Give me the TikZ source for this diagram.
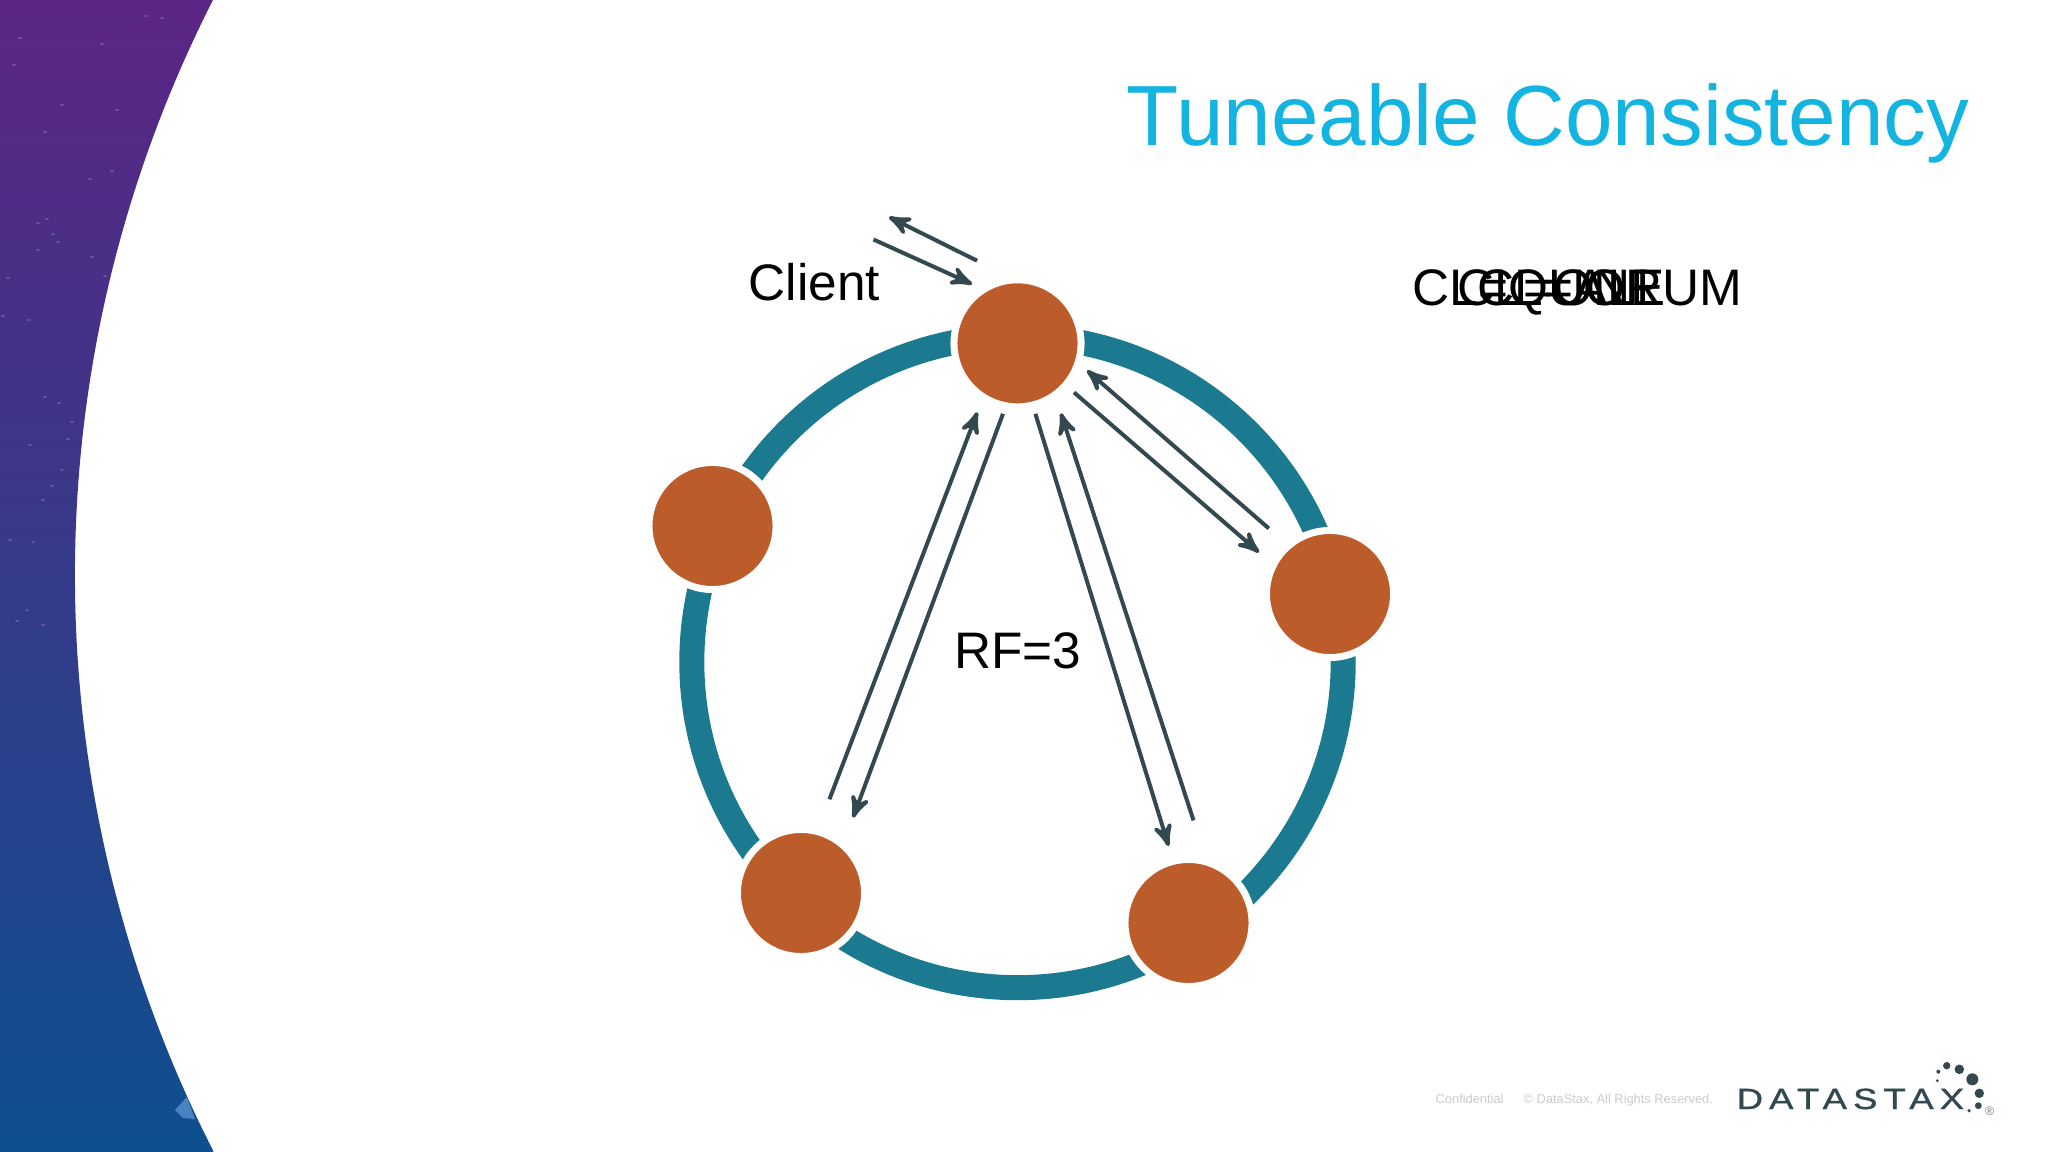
\documentclass[tikz,border=0pt]{standalone}
\usepackage{fontspec}
\setmainfont{Liberation Sans}
\newfontfamily\logofont[LetterSpace=21,FakeStretch=1.25,FakeBold=1.2]{Liberation Sans}
\usepackage{xcolor}
\usetikzlibrary{arrows}
\definecolor{ringblue}{HTML}{1B7A8F}
\definecolor{nodeorange}{HTML}{BC5C2B}
\definecolor{titleblue}{HTML}{14B4E1}
\definecolor{arrowgrey}{HTML}{33494F}
\definecolor{footgrey}{HTML}{CBCBD0}
\definecolor{reggrey}{HTML}{6F7F83}
\definecolor{skytop}{HTML}{5C2585}
\definecolor{skymid}{HTML}{2F3A8C}
\definecolor{skybot}{HTML}{0E4F8F}
\definecolor{speck}{HTML}{6A559F}
\definecolor{patch}{HTML}{4A84C0}

\begin{document}
\begin{tikzpicture}[x=0.01cm,y=-0.01cm,>=stealth',auto,node distance=3.185cm,
                    main node/.style={circle,fill=nodeorange,draw=white,line width=0.07cm,inner sep=0pt,minimum size=1.27cm},
                    ring node/.style={circle,draw=ringblue,line width=0.25cm,inner sep=0pt,minimum size=6.51cm},
                    label node/.style={font=\fontsize{14.6}{18}\selectfont,text=black,anchor=base west,inner sep=0pt},
                    foot node/.style={font=\fontsize{3.65}{5}\selectfont,text=footgrey,anchor=base west,inner sep=0pt},
                    link/.style={->,draw=arrowgrey,line width=0.04cm}]

  \useasboundingbox (0,0) rectangle (2048,1152);

  % left band
  \shade[top color=skytop,middle color=skymid,bottom color=skybot]
    (0,0) -- (213,0) arc[start angle=207,end angle=153,radius=1267] -- (213,1152) -- (0,1152) -- cycle;
  \foreach \sx/\sy in {20/38,14/65,45/132,62/105,38/223,47/219,53/234,58/242,38/250,8/278,3/316,29/320,
                       45/397,59/403,72/422,68/439,30/445,52/486,43/500,10/540,33/542,17/621,43/625,27/610,
                       102/44,146/16,162/18,117/110,90/179,112/171,105/276,92/257,62/470}
    \fill[speck] (\sx,\sy) ellipse (2.2 and 0.9);
  \fill[patch] (187,1097) -- (175,1110) -- (183,1118) -- (195,1119) -- cycle;

  \node[ring node] (ring) at (1017.5,662) {};
  \node[main node] (1) [above of=ring] {};
  \node[main node] (2) at (1330,594) {};
  \node[main node] (3) at (1188.5,923) {};
  \node[main node] (4) at (801,893) {};
  \node[main node] (5) at (712.5,526) {};

  \coordinate (client in) at (873.5,239.5);
  \coordinate (client out) at (889,217);

  \path[every edge/.append style={link}]
    (client in) edge [shorten >=.086cm] (1.124.5)
    (1.97.2) edge [shorten <=.36cm] (client out)
    (1.-41.5) edge [shorten <=.078cm,shorten >=.155cm] (2.152.1)
    (2.131.7) edge [shorten <=.228cm,shorten >=.082cm] (1.-19.9)
    (1.-76.4) edge [shorten <=.057cm,shorten >=.125cm] (3.104.8)
    (3.75.9) edge [shorten <=.398cm,shorten >=.158cm] (1.-55.9)
    (1.-101) edge [shorten <=.05cm,shorten >=.256cm] (4.50.1)
    (4.75) edge [shorten <=.31cm,shorten >=.13cm] (1.-122.7);

  \node[anchor=base east,inner sep=0pt,text=titleblue,font=\fontsize{24.3}{30}\selectfont] (title) at (1970,146) {Tuneable Consistency};
  \node[label node] (client) at (748,301) {Client};
  \node[label node,anchor=base] (rf) at (1017.5,669) {RF=3};
  \node[label node] (quorum) at (1412,306) {CL=QUORUM};
  \node[label node] (one) at (1457,306) {CL=ONE};
  \node[label node] (all) at (1477,306) {CL=ALL};

  % footer
  \node[foot node] (conf) at (1435,1103) {Confidential};
  \node[foot node] (rights) at (1523,1103) {© DataStax, All Rights Reserved.};
  \node[anchor=base west,inner sep=0pt,text=arrowgrey,font=\logofont\fontsize{8.3}{10}\selectfont] (logo) at (1736,1109) {DATASTAX};
  \foreach \dx/\dy/\dr in {1946.7/1065.7/3.7,1959.3/1069.3/4.8,1972.3/1079.3/6,1979.3/1093.3/4.7,
                           1978.3/1105.7/3.4,1969/1110.7/1.8,1938.3/1071.7/2,1937.3/1080.7/1.6}
    \fill[arrowgrey] (\dx,\dy) circle (\dr);
  \node[inner sep=0pt,text=reggrey,font=\fontsize{3.5}{4}\selectfont] (reg) at (1989.7,1111.3) {®};
\end{tikzpicture}
\end{document}
